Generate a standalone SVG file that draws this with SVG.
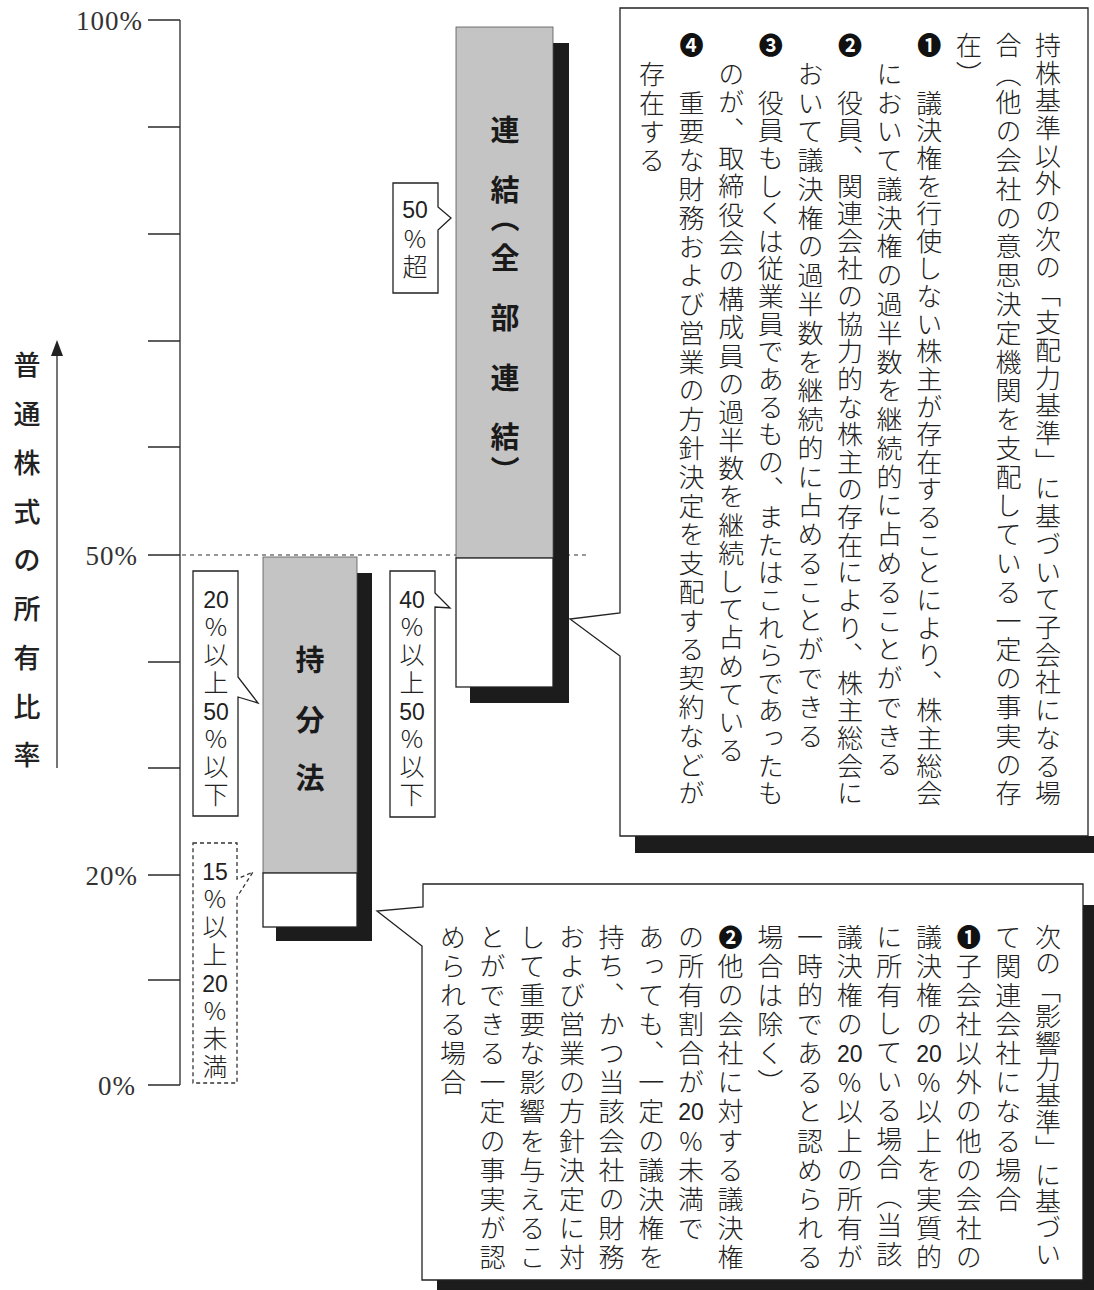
<svg xmlns="http://www.w3.org/2000/svg" width="1094" height="1290" viewBox="0 0 1094 1290">
<style>
  .ln { stroke: #2a2a2a; stroke-width: 1.3; fill: none; }
  .jp { font-family: "Noto Sans CJK JP", "Noto Sans CJK SC", sans-serif; fill: #222; font-weight: 300; }
  .v { writing-mode: vertical-rl; text-orientation: upright; font-size: 26px; letter-spacing: 2.9px; }
  .v2 { letter-spacing: 3.1px; }
  .lv { writing-mode: vertical-rl; text-orientation: upright; font-size: 25px; letter-spacing: 3px; }
  .mk { writing-mode: vertical-rl; text-orientation: upright; font-size: 24px; font-weight: 700; fill: #111; }
  .dg { font-family: "Liberation Sans", Arial, sans-serif; font-size: 23px; fill: #222; text-anchor: middle; }
  .ax { font-family: "Liberation Serif", "DejaVu Serif", serif; font-size: 27px; fill: #333; text-anchor: end; letter-spacing: 1px; }
  .ttl { font-family: "Noto Sans CJK JP", "Noto Sans CJK SC", sans-serif; font-size: 27px; font-weight: 500; fill: #222; text-anchor: middle; }
  .bl { font-family: "Noto Sans CJK JP", "Noto Sans CJK SC", sans-serif; font-size: 29px; font-weight: 700; fill: #1a1a1a; text-anchor: middle; }
  .gray { fill: #c4c4c4; stroke: #555; stroke-width: 0.8; }
  .wht { fill: #fff; stroke: #222; stroke-width: 1.3; }
  .shd { fill: #1c1c1c; }
  .box { fill: #fff; stroke: #222; stroke-width: 1.3; }
  .dbox { fill: #fff; stroke: #333; stroke-width: 1.3; stroke-dasharray: 4 3; }
</style>
<rect width="1094" height="1290" fill="#fff"/>

<g id="axis">
  <line class="ln" x1="180" y1="20" x2="180" y2="1085"/>
  <path class="ln" d="M148,20H180 M148,127H180 M148,234H180 M148,341H180 M148,447H180 M148,555H180 M148,662H180 M148,768H180 M148,875H180 M148,980H180 M148,1085H180"/>
  <text class="ax" x="143" y="30">100%</text>
  <text class="ax" x="138" y="565">50%</text>
  <text class="ax" x="138" y="885">20%</text>
  <text class="ax" x="136" y="1095">0%</text>
  <text class="ttl" x="27 27 27 27 27 27 27 27 27" y="375 424 473 522 570 619 668 717 765">普通株式の所有比率</text>
  <line class="ln" x1="57" y1="768" x2="57" y2="352"/>
  <polygon points="57,340 51,356 63,356" fill="#222"/>
</g>

<g id="connectors">
  <line x1="182" y1="555" x2="590" y2="555" stroke="#333" stroke-width="1.2" stroke-dasharray="4 4"/>
</g>

<g id="bar-renketsu">
  <rect class="shd" x="553" y="43" width="16" height="660"/>
  <rect class="shd" x="470" y="687" width="99" height="16"/>
  <rect class="gray" x="456" y="27" width="97" height="531"/>
  <rect class="wht" x="456" y="558" width="97" height="129"/>
  <text class="bl" x="505 505" y="141 201">連結</text>
  <text class="bl" x="505" y="229" transform="rotate(90 505 218)">（</text>
  <text class="bl" x="505 505 505 505" y="269 329 389 448">全部連結</text>
  <text class="bl" x="505" y="481" transform="rotate(90 505 470)">）</text>
</g>

<g id="bar-mochibun">
  <rect class="shd" x="357" y="573" width="15" height="368"/>
  <rect class="shd" x="276" y="927" width="96" height="14"/>
  <rect class="gray" x="263" y="557" width="94" height="316"/>
  <rect class="wht" x="263" y="873" width="94" height="54"/>
  <text class="bl" x="310 310 310" y="671 731 789">持分法</text>
</g>

<g id="label-50over">
  <path class="box" d="M393,183H438V207L451,218L438,230V293H393Z"/>
  <text class="dg" x="415" y="218">50</text>
  <text class="jp lv" x="415" y="226">%超</text>
</g>

<g id="label-20-50">
  <path class="box" d="M193,571H238V677L258,703L238,697V816H193Z"/>
  <text class="dg" x="216" y="608">20</text>
  <text class="jp lv" x="216" y="614">%以上</text>
  <text class="dg" x="216" y="720">50</text>
  <text class="jp lv" x="216" y="726">%以下</text>
</g>

<g id="label-40-50">
  <path class="box" d="M390,571H435V593L450,608L435,607V817H390Z"/>
  <text class="dg" x="412" y="608">40</text>
  <text class="jp lv" x="412" y="614">%以上</text>
  <text class="dg" x="412" y="720">50</text>
  <text class="jp lv" x="412" y="726">%以下</text>
</g>

<g id="label-15-20">
  <path class="dbox" d="M193,843H237V879L253,872L237,897V1083H193Z"/>
  <text class="dg" x="215" y="880">15</text>
  <text class="jp lv" x="215" y="886">%以上</text>
  <text class="dg" x="215" y="992">20</text>
  <text class="jp lv" x="215" y="998">%未満</text>
</g>

<g id="callout-control">
  <rect class="shd" x="635" y="836" width="470" height="17"/>
  <path class="box" d="M620,8H1088V836H620V656L570,619L620,613Z"/>
  <text class="jp v" x="1048" y="32" textLength="777.4" lengthAdjust="spacing">持株基準以外の次の「支配力基準」に基づいて子会社になる場</text>
  <text class="jp v" x="1008.4" y="32" textLength="777.4" lengthAdjust="spacing">合（他の会社の意思決定機関を支配している一定の事実の存</text>
  <text class="jp v" x="968.8" y="32">在）</text>
  <text class="jp mk" x="929.2" y="33">❶</text>
  <text class="jp v" x="929.2" y="89.8" textLength="719.6" lengthAdjust="spacing">議決権を行使しない株主が存在することにより、株主総会</text>
  <text class="jp v" x="889.6" y="60.9" textLength="719.6" lengthAdjust="spacing">において議決権の過半数を継続的に占めることができる</text>
  <text class="jp mk" x="850" y="33">❷</text>
  <text class="jp v" x="850" y="89.8" textLength="719.6" lengthAdjust="spacing">役員、関連会社の協力的な株主の存在により、株主総会に</text>
  <text class="jp v" x="810.4" y="60.9" textLength="690.7" lengthAdjust="spacing">おいて議決権の過半数を継続的に占めることができる</text>
  <text class="jp mk" x="770.8" y="33">❸</text>
  <text class="jp v" x="770.8" y="89.8" textLength="719.6" lengthAdjust="spacing">役員もしくは従業員であるもの、またはこれらであったも</text>
  <text class="jp v" x="731.2" y="60.9" textLength="705.2" lengthAdjust="spacing">のが、取締役会の構成員の過半数を継続して占めている</text>
  <text class="jp mk" x="691.6" y="33">❹</text>
  <text class="jp v" x="691.6" y="89.8" textLength="719.6" lengthAdjust="spacing">重要な財務および営業の方針決定を支配する契約などが</text>
  <text class="jp v" x="652" y="60.9">存在する</text>
</g>

<g id="callout-influence">
  <rect class="shd" x="1083" y="905" width="20" height="391"/>
  <rect class="shd" x="437" y="1280" width="666" height="16"/>
  <path class="box" d="M423,884H1083V1280H422V946L377,911L423,907Z"/>
  <text class="jp v v2" x="1048" y="924" textLength="346.1" lengthAdjust="spacing">次の「影響力基準」に基づい</text>
  <text class="jp v v2" x="1008.3" y="924">て関連会社になる場合</text>
  <text class="jp mk" x="968.7" y="925">❶</text>
  <text class="jp v v2" x="968.7" y="953.1">子会社以外の他の会社の</text>
  <text class="jp v v2" x="929" y="924">議決権の</text>
  <text class="dg" x="929" y="1061.6">20</text>
  <text class="jp v v2" x="929" y="1069.5">%以上を実質的</text>
  <text class="jp v v2" x="889.3" y="924" textLength="346.1" lengthAdjust="spacing">に所有している場合（当該</text>
  <text class="jp v v2" x="849.7" y="924">議決権の</text>
  <text class="dg" x="849.7" y="1061.6">20</text>
  <text class="jp v v2" x="849.7" y="1069.5">%以上の所有が</text>
  <text class="jp v v2" x="810" y="924">一時的であると認められる</text>
  <text class="jp v v2" x="770.3" y="924">場合は除く）</text>
  <text class="jp mk" x="730.6" y="925">❷</text>
  <text class="jp v v2" x="730.6" y="953.1">他の会社に対する議決権</text>
  <text class="jp v v2" x="691" y="924">の所有割合が</text>
  <text class="dg" x="691" y="1119.8">20</text>
  <text class="jp v v2" x="691" y="1127.7">%未満で</text>
  <text class="jp v v2" x="651.3" y="924">あっても、一定の議決権を</text>
  <text class="jp v v2" x="611.6" y="924">持ち、かつ当該会社の財務</text>
  <text class="jp v v2" x="572" y="924">および営業の方針決定に対</text>
  <text class="jp v v2" x="532.3" y="924">して重要な影響を与えるこ</text>
  <text class="jp v v2" x="492.6" y="924">とができる一定の事実が認</text>
  <text class="jp v v2" x="453" y="924">められる場合</text>
</g>
</svg>
